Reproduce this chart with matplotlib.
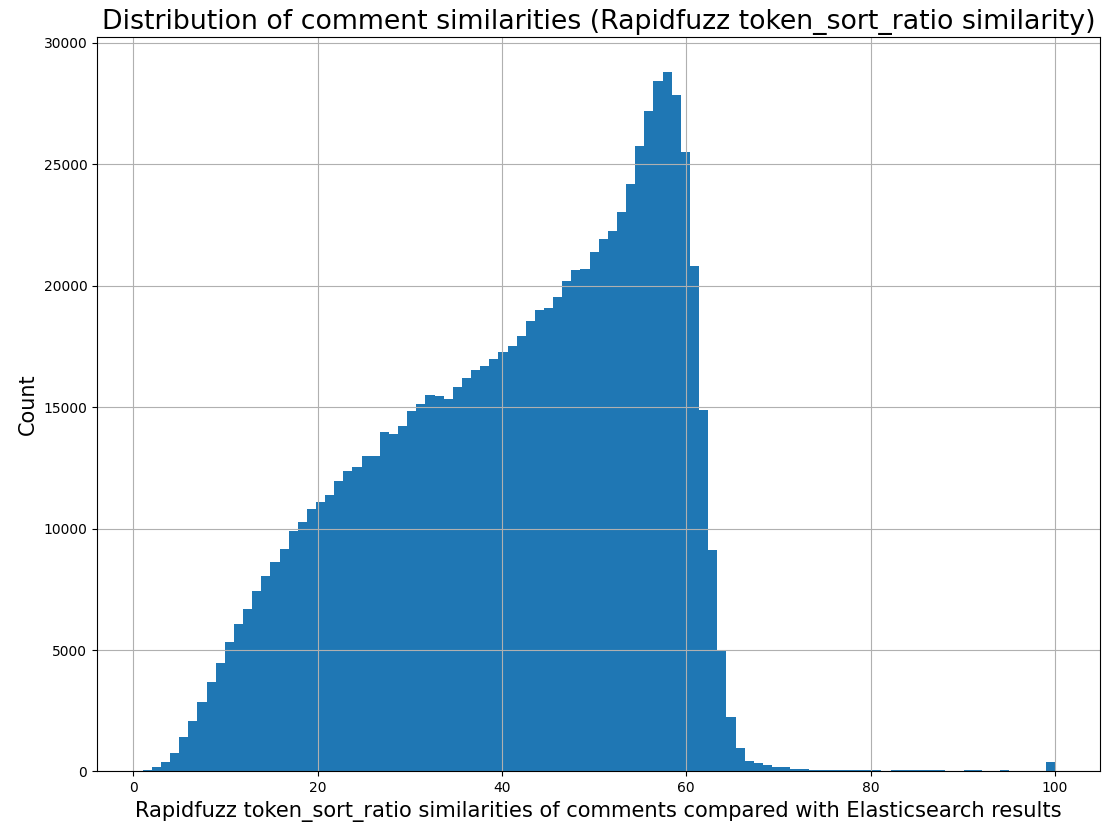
import numpy as np
import matplotlib
matplotlib.use("Agg")
import matplotlib.pyplot as plt

# histogram of similarity scores, 100 bins between 1 and 100
bin_low = 1
bin_high = 100
n_bins = 100

counts = [
    80, 170, 400, 760, 1440, 2075, 2860, 3665, 4465, 5315,
    6055, 6690, 7430, 8030, 8610, 9165, 9890, 10265, 10825, 11080,
    11370, 11950, 12380, 12555, 12980, 12980, 13985, 13915, 14230, 14850,
    15150, 15515, 15445, 15340, 15830, 16185, 16515, 16710, 17000, 17260,
    17505, 17945, 18535, 19015, 19085, 19540, 20210, 20635, 20700, 21390,
    21930, 22240, 23045, 24210, 25755, 27195, 28420, 28790, 27860, 25510,
    20830, 14900, 9136, 4986, 2230, 950, 440, 330, 260, 190,
    175, 120, 110, 70, 65, 60, 60, 55, 55, 55,
    50, 15, 50, 50, 50, 50, 50, 45, 15, 15,
    50, 45, 10, 10, 50, 10, 10, 10, 10, 380,
]

title = "Distribution of comment similarities (Rapidfuzz token_sort_ratio similarity)"
xlabel = "Rapidfuzz token_sort_ratio similarities of comments compared with Elasticsearch results"
ylabel = "Count"

edges = np.linspace(bin_low, bin_high, n_bins + 1)
centers = (edges[:-1] + edges[1:]) / 2

fig, ax = plt.subplots(figsize=(11.16, 8.3), dpi=100)
fig.subplots_adjust(left=0.087, right=0.986, top=0.955, bottom=0.0705)

ax.hist(centers, bins=edges, weights=counts, color="#1f77b4")
ax.grid(True)

ax.set_title(title, fontsize=19.3)
ax.set_xlabel(xlabel, fontsize=15.15)
ax.set_ylabel(ylabel, fontsize=15)

plt.savefig("out.png")
